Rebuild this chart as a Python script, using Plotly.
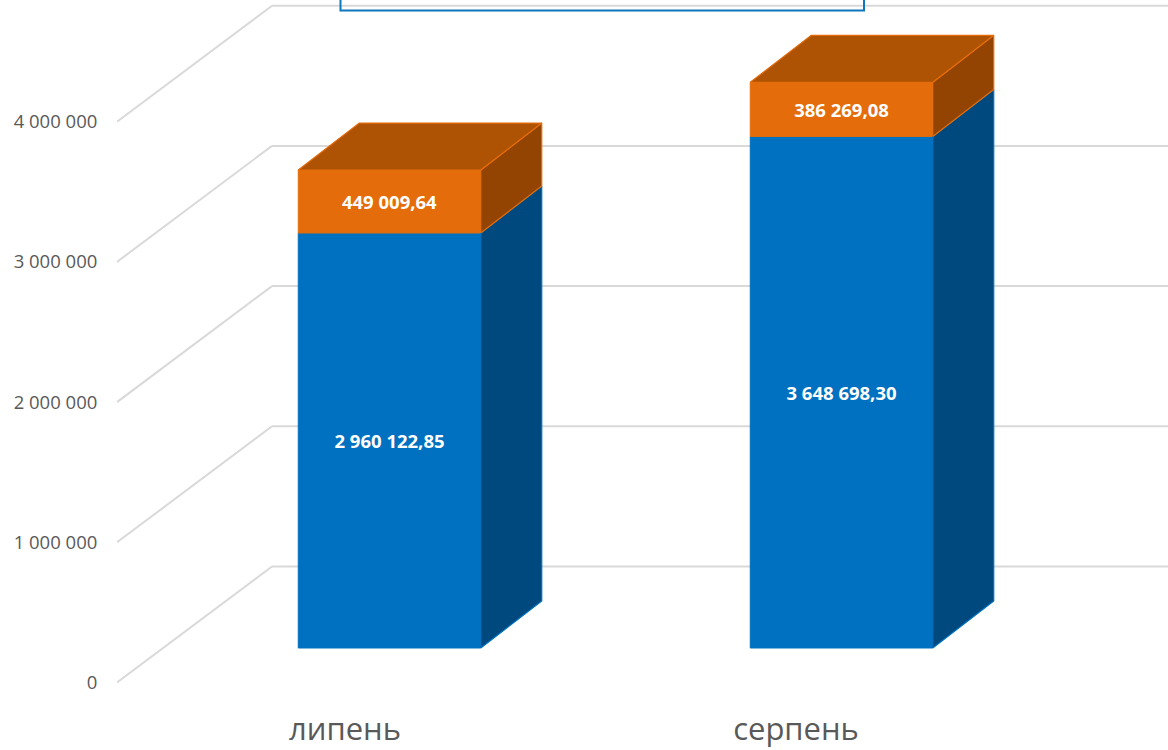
import plotly.graph_objects as go

months = ["липень", "серпень"]
series_blue = [2960122.85, 3648698.30]
series_orange = [449009.64, 386269.08]
blue_labels = ["2 960 122,85", "3 648 698,30"]
orange_labels = ["449 009,64", "386 269,08"]
tick_values = [0, 1000000, 2000000, 3000000, 4000000]
tick_labels = ["0", "1 000 000", "2 000 000", "3 000 000", "4 000 000"]

# horizontal axis is laid out in pixel-sized units
bar_centers = [389.5, 841.5]
label_centers = [345, 796]
bar_width = 182.5
PX = 140.2 / 1e6            # pixels per unit of value
plot_left, plot_bottom_px, zero_px = 117, 701, 682.5
bar_base = 34.5 / PX        # bars stand part-way into the floor
wall_dx, wall_dy = 155, 116 / PX
depth_dx, depth_dy = 61, 47 / PX

GRID = "#d9d9d9"
BLUE, BLUE_SIDE = "#0070c0", "#00497f"
ORANGE, ORANGE_TOP, ORANGE_SIDE = "#e46c0a", "#ae5203", "#934403"
FONT = "Open Sans"

fig = go.Figure()

bases_orange = [bar_base + b for b in series_blue]
fig.add_bar(x=bar_centers, y=series_blue, base=[bar_base, bar_base], width=bar_width,
            marker=dict(color=BLUE, line=dict(color=BLUE, width=1)),
            text=blue_labels, textposition="inside", insidetextanchor="middle", textangle=0,
            textfont=dict(color="white", size=18.5, family=FONT, weight="bold"),
            constraintext="none", cliponaxis=False, showlegend=False)
fig.add_bar(x=bar_centers, y=series_orange, base=bases_orange, width=bar_width,
            marker=dict(color=ORANGE, line=dict(color=ORANGE, width=1)),
            text=orange_labels, textposition="inside", insidetextanchor="middle", textangle=0,
            textfont=dict(color="white", size=18.5, family=FONT, weight="bold"),
            constraintext="none", cliponaxis=False, showlegend=False)


def face(xs, ys, fill, edge):
    fig.add_scatter(x=xs, y=ys, mode="lines", fill="toself", fillcolor=fill,
                    line=dict(color=edge, width=1.2), hoverinfo="skip", showlegend=False)


for c, b, o in zip(bar_centers, series_blue, series_orange):
    right = c + bar_width / 2
    left = c - bar_width / 2
    y_blue = bar_base + b
    y_top = y_blue + o
    face([right, right + depth_dx, right + depth_dx, right, right],
         [bar_base, bar_base + depth_dy, y_blue + depth_dy, y_blue, bar_base], BLUE_SIDE, BLUE)
    face([right, right + depth_dx, right + depth_dx, right, right],
         [y_blue, y_blue + depth_dy, y_top + depth_dy, y_top, y_blue], ORANGE_SIDE, ORANGE)
    face([left, right, right + depth_dx, left + depth_dx, left],
         [y_top, y_top, y_top + depth_dy, y_top + depth_dy, y_top], ORANGE_TOP, ORANGE)

shapes = []
x_end = 1168
for v in tick_values:
    shapes.append(dict(type="line", layer="below", xref="x", yref="y",
                       x0=plot_left, y0=v, x1=plot_left + wall_dx, y1=v + wall_dy,
                       line=dict(color=GRID, width=2)))
    shapes.append(dict(type="line", layer="below", xref="x", yref="y",
                       x0=plot_left + wall_dx, y0=v + wall_dy, x1=x_end, y1=v + wall_dy,
                       line=dict(color=GRID, width=2)))
# lower edge of the cropped legend frame at the top
legend_x = [340.5, 864]
legend_bottom = (zero_px - 10.5) / PX
legend_top = (zero_px + 20) / PX
shapes.append(dict(type="rect", layer="above", xref="x", yref="y",
                   x0=legend_x[0], x1=legend_x[1], y0=legend_bottom, y1=legend_top,
                   line=dict(color="#0e76bc", width=2), fillcolor="rgba(0,0,0,0)"))

fig.update_layout(
    width=1168, height=750, autosize=False,
    margin=dict(l=plot_left, r=0, t=0, b=750 - plot_bottom_px, pad=0),
    paper_bgcolor="white", plot_bgcolor="white",
    barmode="overlay", showlegend=False, shapes=shapes,
    xaxis=dict(range=[plot_left, 1168], tickvals=label_centers, ticktext=months,
               automargin=False, showgrid=False, zeroline=False, showline=False,
               ticks="outside", ticklen=1, tickcolor="rgba(0,0,0,0)",
               tickfont=dict(family=FONT, size=31, color="#595959")),
    yaxis=dict(range=[(zero_px - plot_bottom_px) / PX, zero_px / PX],
               tickvals=tick_values, ticktext=tick_labels,
               automargin=False, showgrid=False, zeroline=False, showline=False,
               ticks="outside", ticklen=15, tickcolor="rgba(0,0,0,0)",
               tickfont=dict(family=FONT, size=18.5, color="#595959")),
)

fig.write_html("out.html", config=dict(displayModeBar=False),
               post_script="document.body.style.margin='0';")
